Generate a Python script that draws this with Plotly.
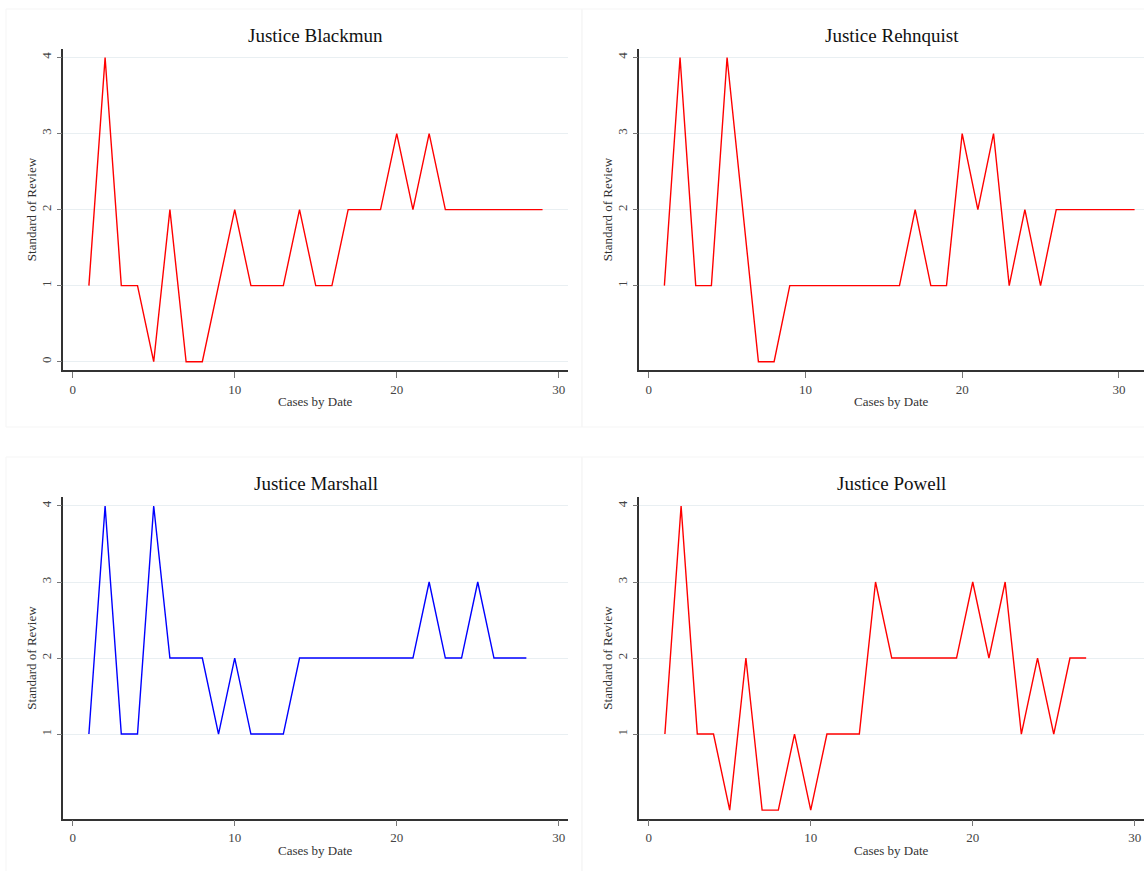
import plotly.graph_objects as go

# Standard-of-review score for each case, in order of decision date
blackmun = [1, 4, 1, 1, 0, 2, 0, 0, 1, 2, 1, 1, 1, 2, 1, 1, 2, 2, 2, 3, 2, 3, 2, 2, 2, 2, 2, 2, 2]
rehnquist = [1, 4, 1, 1, 4, 2, 0, 0, 1, 1, 1, 1, 1, 1, 1, 1, 2, 1, 1, 3, 2, 3, 1, 2, 1, 2, 2, 2, 2, 2, 2]
marshall = [1, 4, 1, 1, 4, 2, 2, 2, 1, 2, 1, 1, 1, 2, 2, 2, 2, 2, 2, 2, 2, 3, 2, 2, 3, 2, 2, 2]
powell = [1, 4, 1, 1, 0, 2, 0, 0, 1, 0, 1, 1, 1, 3, 2, 2, 2, 2, 2, 3, 2, 3, 1, 2, 1, 2, 2]

titles = ["Justice Blackmun", "Justice Rehnquist", "Justice Marshall", "Justice Powell"]
colors = ["#ff0000", "#ff0000", "#0000ff", "#ff0000"]
y_ticks = [[0, 1, 2, 3, 4], [1, 2, 3, 4], [1, 2, 3, 4], [1, 2, 3, 4]]
x_ticks = [0, 10, 20, 30]

W, H = 1144, 871
FONT = "Liberation Serif, Times New Roman, serif"

series = [blackmun, rehnquist, marshall, powell]

# panel geometry in pixels: (left, right) of plot area, (top, bottom) of plot area
cols = [(63.3, 568.0), (639.3, 1144.0)]
rows = [(48.5, 370.3), (497.0, 818.7)]
x_ranges = [[-0.58, 30.57], [-0.6, 31.6], [-0.58, 30.57], [-0.58, 30.57]]


def px(x):
    return x / W


def py(y):
    return 1 - y / H


fig = go.Figure()
layout = dict(
    width=W, height=H,
    margin=dict(l=0, r=0, t=0, b=0),
    paper_bgcolor="white", plot_bgcolor="white",
    showlegend=False,
    font=dict(family=FONT, color="#222"),
    annotations=[], shapes=[],
)

for i, vals in enumerate(series):
    r, c = divmod(i, 2)
    (x0, x1), (y0, y1) = cols[c], rows[r]
    n = i + 1
    xa = "xaxis" if n == 1 else f"xaxis{n}"
    ya = "yaxis" if n == 1 else f"yaxis{n}"
    xref = "x" if n == 1 else f"x{n}"
    yref = "y" if n == 1 else f"y{n}"

    fig.add_trace(go.Scatter(
        x=list(range(1, len(vals) + 1)), y=vals,
        mode="lines", line=dict(color=colors[i], width=1.4),
        xaxis=xref, yaxis=yref, hoverinfo="skip",
    ))

    layout[xa] = dict(
        domain=[px(x0), px(x1)], range=x_ranges[i], anchor=yref,
        tickvals=x_ticks, ticktext=[str(v) for v in x_ticks],
        ticks="outside", ticklen=6, tickwidth=1, tickcolor="#777",
        showline=True, linecolor="#333", linewidth=1.5,
        showgrid=False, zeroline=False,
        tickfont=dict(family=FONT, size=13, color="#444"),
    )
    layout[ya] = dict(
        domain=[py(y1), py(y0)], range=[-0.113, 4.118], anchor=xref,
        tickvals=y_ticks[i], ticks="outside", ticklen=5, tickwidth=1, tickcolor="#777",
        tickangle=-90,
        showline=True, linecolor="#333", linewidth=1.5,
        showgrid=True, gridcolor="#e9eff2", gridwidth=1, zeroline=False,
        tickfont=dict(family=FONT, size=13, color="#444"),
    )

    cx = (x0 + x1) / 2 if c == 0 else (x0 + 1144.4) / 2
    layout["annotations"] += [
        dict(text=titles[i], x=px(cx), y=py(y0 - 13.5), xref="paper", yref="paper",
             showarrow=False, xanchor="center", yanchor="middle",
             font=dict(family=FONT, size=19, color="#111")),
        dict(text="Cases by Date", x=px(cx), y=py(y1 + 31.5), xref="paper", yref="paper",
             showarrow=False, xanchor="center", yanchor="middle",
             font=dict(family=FONT, size=13, color="#333")),
        dict(text="Standard of Review", x=px(x0 - 31.5), y=py((y0 + y1) / 2),
             xref="paper", yref="paper", textangle=-90,
             showarrow=False, xanchor="center", yanchor="middle",
             font=dict(family=FONT, size=13, color="#333")),
    ]

# faint outlines of the four graph regions
for (bx0, bx1) in [(6, 582), (582, 1150)]:
    for (by0, by1) in [(9, 427), (457, 880)]:
        layout["shapes"].append(dict(
            type="rect", xref="paper", yref="paper",
            x0=px(bx0), x1=px(bx1), y0=py(by1), y1=py(by0),
            line=dict(color="#f5f5f5", width=1), layer="below",
        ))

fig.update_layout(**layout)
fig.write_html("out.html")
